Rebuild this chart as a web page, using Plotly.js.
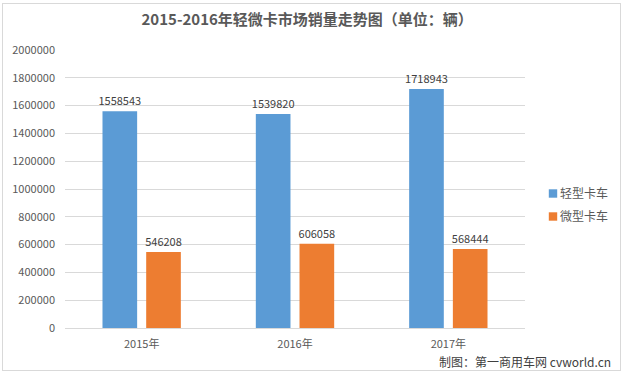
<!DOCTYPE html>
<html><head><meta charset="utf-8">
<script src="https://cdn.plot.ly/plotly-3.0.1.min.js"></script>
<style>
body{margin:0;background:#fff;}
#chart{position:absolute;left:2px;top:3px;width:617px;height:366px;border:1px solid #d9d9d9;}
</style></head>
<body><div id="chart"></div>
<script>
const categories = ['2015年','2016年','2017年'];
const lightTruck = [1558543, 1539820, 1718943];
const microTruck = [546208, 606058, 568444];
const seriesNames = ['轻型卡车','微型卡车'];
const yTicks = [0,200000,400000,600000,800000,1000000,1200000,1400000,1600000,1800000,2000000];

const cjk = '"Noto Sans CJK SC", "Liberation Sans", sans-serif';
const labelFont = {family: cjk, size: 11, color: '#404040'};

const traces = [
  {type:'bar', name: seriesNames[0], legendgroup:'a', x: categories, y: lightTruck, marker:{color:'#5B9BD5'},
   text: lightTruck.map(String), textposition:'outside', constraintext:'none', textfont: labelFont, cliponaxis:false, hoverinfo:'none'},
  {type:'bar', name: seriesNames[1], legendgroup:'b', x: categories, y: microTruck, marker:{color:'#ED7D31'},
   text: microTruck.map(String), textposition:'outside', constraintext:'none', textfont: labelFont, cliponaxis:false, hoverinfo:'none'}
];

const W = 617, H = 366, L = 62, R = 95, T = 46, B = 42;
const pw = W - L - R, ph = H - T - B;
const layout = {
  width: W, height: H,
  margin: {l: L, r: R, t: T, b: B, pad: 0, autoexpand: false},
  paper_bgcolor: '#fff', plot_bgcolor: '#fff',
  title: {text: '2015-2016年轻微卡市场销量走势图（单位：辆）', x: 0.493, xanchor:'center', y: 1 - 16/H, yanchor:'middle',
          font: {family: cjk, size: 15, color: '#595959', weight: 'bold'}},
  barmode: 'group', bargap: 0.43, bargroupgap: 0.207,
  xaxis: {type:'category', showgrid:false, showline:true, linecolor:'#d9d9d9', linewidth:1,
          ticks:'', ticklabelstandoff: 6, tickfont:{family: cjk, size: 11, color:'#595959'}, fixedrange:true},
  yaxis: {range:[0,2000000], tickvals: yTicks, ticktext: yTicks.map(String), showgrid:true, gridcolor:'#d9d9d9',
          zeroline:false, showline:false, ticks:'', ticklabelstandoff: 9,
          tickfont:{family: cjk, size: 11, color:'#595959'}, fixedrange:true},
  showlegend: true,
  legend: {x: (517 - L)/pw, xanchor:'left', y: (ph - 175 + T)/ph, yanchor:'top', orientation:'v',
           traceorder:'grouped', tracegroupgap: 4,
           font:{family: cjk, size: 12, color:'#595959'}, bgcolor:'rgba(0,0,0,0)', itemwidth: 30},
  annotations: [
    {xref:'paper', yref:'paper', x: (610 - L)/pw, xanchor:'right', y: (ph - (357 - T))/ph, yanchor:'middle',
     text:'制图：第一商用车网 cvworld.cn', showarrow:false, font:{family: cjk, size: 12, color:'#404040'}}
  ]
};
Plotly.newPlot('chart', traces, layout, {staticPlot:true, displayModeBar:false}).then(function(gd){
  gd.querySelectorAll('.legend .legendpoints path').forEach(function(p){
    p.setAttribute('transform', 'translate(33,0) scale(0.7)');
  });
});
</script></body></html>
